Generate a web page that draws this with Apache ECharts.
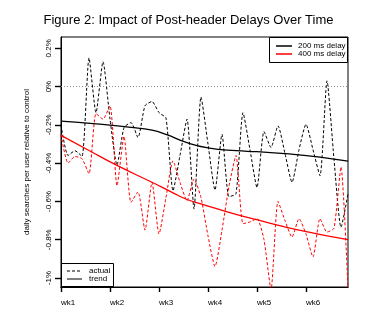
<!DOCTYPE html>
<html>
<head>
<meta charset="utf-8">
<script src="https://cdn.jsdelivr.net/npm/echarts@6/dist/echarts.min.js"></script>
<style>
html,body{margin:0;padding:0;background:#fff;}
#chart{width:377px;height:327px;}
</style>
</head>
<body>
<div id="chart"></div>
<script>
// ---- data (values in %) ----
var days = [0,1,2,3,4,5,6,7,8,9,10,11,12,13,14,15,16,17,18,19,20,21,22,23,24,25,26,27,28,29,30,31,32,33,34,35,36,37,38,39,40,41];
var actual200 = [-0.20,-0.36,-0.335,-0.365,0.15,-0.136,0.13,-0.17,-0.41,-0.214,-0.188,-0.266,-0.10,-0.078,-0.136,-0.165,-0.544,-0.36,-0.17,-0.64,-0.054,-0.30,-0.54,-0.249,-0.575,-0.56,-0.136,-0.33,-0.527,-0.235,-0.318,-0.205,-0.35,-0.50,-0.33,-0.197,-0.33,-0.466,0.03,-0.38,-0.735,-0.56];
var actual400 = [-0.25,-0.40,-0.365,-0.377,-0.455,-0.141,-0.17,-0.10,-0.518,-0.26,-0.605,-0.55,-0.75,-0.50,-0.77,-0.58,-0.388,-0.50,-0.596,-0.483,-0.58,-0.78,-0.94,-0.75,-0.52,-0.36,-0.716,-0.707,-0.69,-0.80,-1.06,-0.60,-0.70,-0.786,-0.69,-0.77,-0.89,-0.69,-0.76,-0.74,-0.42,-1.06];
var trend200Days = [0,5,10,13,15,18,21,25,28,32,37,41];
var trend200 = [-0.18,-0.195,-0.213,-0.228,-0.25,-0.293,-0.32,-0.335,-0.34,-0.35,-0.368,-0.39];
var trend400Days = [0,4,8,13,16,18,20,25,29,34,41];
var trend400 = [-0.255,-0.334,-0.412,-0.50,-0.555,-0.59,-0.613,-0.668,-0.705,-0.75,-0.80];
var weekLabels = ['wk1','wk2','wk3','wk4','wk5','wk6'];
var xTickValues = [0,7,14,21,28,35];
var yTickValues = [-1,-0.8,-0.6,-0.4,-0.2,0,0.2];
var yTickLabels = ['-1%','-0.8%','-0.6%','-0.4%','-0.2%','0%','0.2%'];

function pairs(xs, ys){ return xs.map(function(x,i){ return [x, ys[i]]; }); }

var FONT = 'Liberation Sans, Arial, Helvetica, sans-serif';
var chart = echarts.init(document.getElementById('chart'), null, {renderer:'canvas'});
chart.setOption({
  animation:false,
  backgroundColor:'#fff',
  textStyle:{fontFamily:FONT},
  title:{
    text:'Figure 2: Impact of Post-header Delays Over Time',
    left:'center', top:9,
    textStyle:{fontSize:13, fontWeight:'normal', color:'#000', fontFamily:FONT}
  },
  grid:{left:61, top:37, width:287, height:250, show:true, borderColor:'#000', borderWidth:1},
  xAxis:[{
    type:'value', min:0, max:41, interval:7,
    axisLine:{show:true, onZero:false, lineStyle:{color:'#000', width:1}},
    axisTick:{show:false},
    splitLine:{show:false},
    axisLabel:{
      margin:12, align:'left', fontSize:8, color:'#000', fontFamily:FONT,
      customValues:xTickValues,
      formatter:function(v){ var i=Math.round(v/7); return weekLabels[i]||''; }
    }
  },{
    type:'value', min:0, max:41, interval:7, position:'bottom',
    axisLine:{show:true, onZero:false, lineStyle:{color:'#000', width:1}},
    axisTick:{show:true, length:5, customValues:xTickValues, lineStyle:{color:'#000', width:1.4}},
    splitLine:{lineStyle:{opacity:0}},
    axisLabel:{show:false}
  }],
  yAxis:[{
    type:'value', min:-1.047, max:0.259,
    name:'daily searches per user relative to control',
    nameLocation:'middle', nameGap:30,
    nameTextStyle:{fontSize:8, color:'#000', fontFamily:FONT},
    axisLine:{show:true, onZero:false, lineStyle:{color:'#000', width:1}},
    axisTick:{show:false},
    splitLine:{show:false},
    axisLabel:{
      rotate:90, margin:8, fontSize:8, color:'#000', fontFamily:FONT,
      customValues:yTickValues,
      formatter:function(v){ var i=Math.round(v*10)/2+5; return yTickLabels[Math.round(i)]; }
    }
  },{
    type:'value', min:-1.047, max:0.259, position:'left',
    axisLine:{show:true, onZero:false, lineStyle:{color:'#000', width:1}},
    axisTick:{show:true, length:6, customValues:yTickValues, lineStyle:{color:'#000', width:1.4}},
    splitLine:{lineStyle:{opacity:0}},
    axisLabel:{show:false, customValues:yTickValues}
  }],
  series:[
    {name:'200 actual', type:'line', data:pairs(days, actual200), symbol:'none', smooth:0.2,
     lineStyle:{color:'#000', width:1, type:[3,2]},
     markLine:{silent:true, symbol:'none', label:{show:false},
       lineStyle:{color:'#8a8a8a', width:1, type:[1,2]}, data:[{yAxis:0}]}},
    {name:'400 actual', type:'line', data:pairs(days, actual400), symbol:'none', smooth:0.2,
     lineStyle:{color:'#ff0000', width:1, type:[3,2]}},
    {name:'200 trend', type:'line', data:pairs(trend200Days, trend200), symbol:'none', smooth:true,
     lineStyle:{color:'#000', width:1.3}},
    {name:'400 trend', type:'line', data:pairs(trend400Days, trend400), symbol:'none', smooth:true,
     lineStyle:{color:'#ff0000', width:1.3}}
  ],
  graphic:[
    {type:'rect', shape:{x:269.5, y:37.5, width:78, height:25}, style:{fill:'#fff', stroke:'#000', lineWidth:1}, z:100},
    {type:'line', shape:{x1:276, y1:46, x2:292, y2:46}, style:{stroke:'#000', lineWidth:1.5}, z:101},
    {type:'line', shape:{x1:276, y1:54, x2:292, y2:54}, style:{stroke:'#ff0000', lineWidth:1.5}, z:101},
    {type:'text', x:298, y:46, style:{text:'200 ms delay', fontSize:8, fill:'#000', font:'8px '+FONT, verticalAlign:'middle'}, z:101},
    {type:'text', x:298, y:54, style:{text:'400 ms delay', fontSize:8, fill:'#000', font:'8px '+FONT, verticalAlign:'middle'}, z:101},
    {type:'rect', shape:{x:61.5, y:263.5, width:52, height:23}, style:{fill:'#fff', stroke:'#000', lineWidth:1}, z:100},
    {type:'line', shape:{x1:67, y1:271, x2:82, y2:271}, style:{stroke:'#000', lineWidth:1, lineDash:[3,2]}, z:101},
    {type:'line', shape:{x1:67, y1:279, x2:82, y2:279}, style:{stroke:'#000', lineWidth:1}, z:101},
    {type:'text', x:89, y:271, style:{text:'actual', fontSize:8, fill:'#000', font:'8px '+FONT, verticalAlign:'middle'}, z:101},
    {type:'text', x:89, y:279, style:{text:'trend', fontSize:8, fill:'#000', font:'8px '+FONT, verticalAlign:'middle'}, z:101}
  ]
});
</script>
</body>
</html>
